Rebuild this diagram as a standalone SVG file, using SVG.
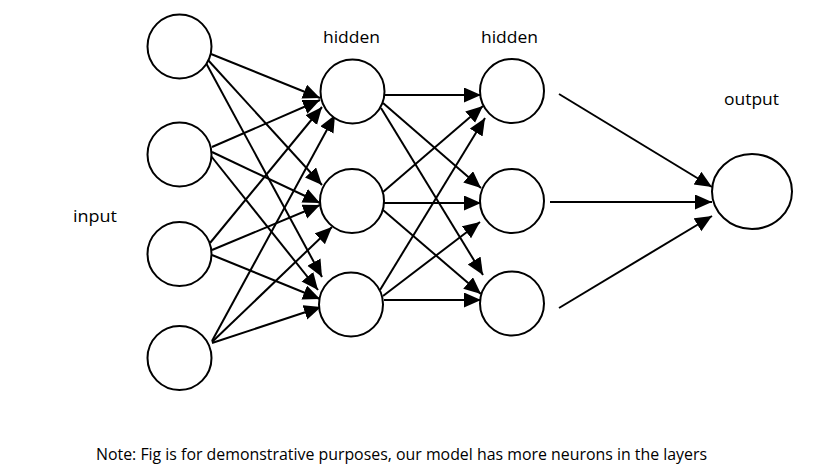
<svg xmlns="http://www.w3.org/2000/svg" width="817" height="472" viewBox="0 0 817 472">
<defs>
<marker id="ah" markerUnits="userSpaceOnUse" markerWidth="18" markerHeight="16" refX="17" refY="7.5" orient="auto">
<path d="M0,0 L17,7.5 L0,15 Z" fill="#000"/>
</marker>
<style>
.n{fill:#fff;stroke:#000;stroke-width:2}
.e{stroke:#000;stroke-width:2;fill:none;marker-end:url(#ah)}
.t{font-family:"Open Sans","Liberation Sans",sans-serif;fill:#000}
</style>
</defs>
<rect width="817" height="472" fill="#fff"/>
<g id="connectors">
<line class="e" x1="211" y1="54" x2="320" y2="98"/>
<line class="e" x1="208" y1="60" x2="322" y2="185"/>
<line class="e" x1="206" y1="63" x2="322" y2="277"/>
<line class="e" x1="212" y1="147" x2="320" y2="100"/>
<line class="e" x1="212" y1="152" x2="320" y2="203"/>
<line class="e" x1="211" y1="156" x2="318" y2="290"/>
<line class="e" x1="210" y1="243" x2="322" y2="107"/>
<line class="e" x1="212" y1="250" x2="320" y2="205"/>
<line class="e" x1="212" y1="255" x2="320" y2="299"/>
<line class="e" x1="212" y1="341" x2="335" y2="115"/>
<line class="e" x1="212" y1="342" x2="332" y2="227"/>
<line class="e" x1="212" y1="343" x2="321" y2="307"/>
<line class="e" x1="385" y1="95" x2="481" y2="95"/>
<line class="e" x1="383" y1="103" x2="481" y2="188"/>
<line class="e" x1="381" y1="108" x2="483" y2="275"/>
<line class="e" x1="383" y1="192" x2="483" y2="106"/>
<line class="e" x1="384" y1="203" x2="481" y2="203"/>
<line class="e" x1="383" y1="210" x2="481" y2="294"/>
<line class="e" x1="380" y1="290" x2="485" y2="118"/>
<line class="e" x1="383" y1="296" x2="480" y2="222"/>
<line class="e" x1="384" y1="300" x2="481" y2="300"/>
<line class="e" x1="559" y1="94" x2="712" y2="187"/>
<line class="e" x1="550" y1="202" x2="712" y2="202"/>
<line class="e" x1="559" y1="308" x2="712" y2="216"/>
</g>
<g id="in1"><circle class="n" cx="179.5" cy="46.5" r="32"/></g>
<g id="in2"><circle class="n" cx="179.5" cy="154.5" r="32"/></g>
<g id="in3"><circle class="n" cx="179.5" cy="254" r="32"/></g>
<g id="in4"><circle class="n" cx="179.5" cy="358" r="32"/></g>
<g id="h1a"><circle class="n" cx="352.5" cy="91.5" r="32"/></g>
<g id="h1b"><circle class="n" cx="352" cy="201" r="32"/></g>
<g id="h1c"><circle class="n" cx="351" cy="304.5" r="32"/></g>
<g id="h2a"><circle class="n" cx="512" cy="91" r="32"/></g>
<g id="h2b"><circle class="n" cx="512" cy="201" r="32"/></g>
<g id="h2c"><circle class="n" cx="512" cy="303.5" r="32"/></g>
<g id="out"><ellipse class="n" cx="752" cy="191.5" rx="40" ry="37.5"/></g>
<g id="labels">
<text class="t" x="351.5" y="43" font-size="16" text-anchor="middle" textLength="57" lengthAdjust="spacingAndGlyphs">hidden</text>
<text class="t" x="509.5" y="43" font-size="16" text-anchor="middle" textLength="57" lengthAdjust="spacingAndGlyphs">hidden</text>
<text class="t" x="751.5" y="105" font-size="16" text-anchor="middle" textLength="55" lengthAdjust="spacingAndGlyphs">output</text>
<text class="t" x="73" y="222" font-size="16" textLength="44" lengthAdjust="spacingAndGlyphs">input</text>
<text class="t" x="96" y="460" font-size="16.5" textLength="611" lengthAdjust="spacingAndGlyphs">Note: Fig is for demonstrative purposes, our model has more neurons in the layers</text>
</g>
</svg>
